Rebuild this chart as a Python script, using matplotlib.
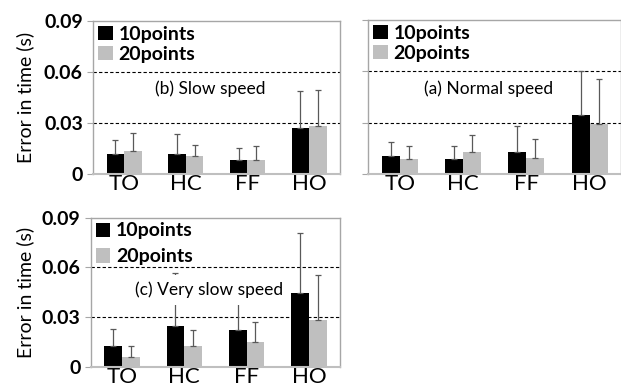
import matplotlib
matplotlib.use("Agg")
from matplotlib import pyplot as plt
from matplotlib.transforms import blended_transform_factory
import numpy as np

plt.rcParams['font.family'] = ['Lato', 'DejaVu Sans']

categories = ['TO', 'HC', 'FF', 'HO']
series_names = ['10points', '20points']
y_ticks = [0, 0.03, 0.06, 0.09]
y_tick_labels = ['0', '0.03', '0.06', '0.09']

# (b) slow speed
slow_10 = [0.0118, 0.0118, 0.0082, 0.0270]
slow_20 = [0.0135, 0.0108, 0.0082, 0.0282]
slow_10_top = [0.0200, 0.0233, 0.0155, 0.0490]
slow_20_top = [0.0240, 0.0171, 0.0165, 0.0494]

# (a) normal speed
normal_10 = [0.0105, 0.0086, 0.0127, 0.0345]
normal_20 = [0.0086, 0.0127, 0.0095, 0.0294]
normal_10_top = [0.0185, 0.0166, 0.0280, 0.0600]
normal_20_top = [0.0166, 0.0230, 0.0203, 0.0557]

# (c) very slow speed
vslow_10 = [0.0126, 0.0250, 0.0224, 0.0448]
vslow_20 = [0.0062, 0.0126, 0.0152, 0.0282]
vslow_10_top = [0.0232, 0.0568, 0.0430, 0.0808]
vslow_20_top = [0.0124, 0.0222, 0.0270, 0.0552]

panels = [
    ('(b) Slow speed', slow_10, slow_20, slow_10_top, slow_20_top, True),
    ('(a) Normal speed', normal_10, normal_20, normal_10_top, normal_20_top, False),
    ('(c) Very slow speed', vslow_10, vslow_20, vslow_10_top, vslow_20_top, True),
]
rects = [
    [0.1502, 0.5492, 0.3973, 0.3964],
    [0.5930, 0.5492, 0.4074, 0.3990],
    [0.1465, 0.0492, 0.4010, 0.3870],
]
title_y = [0.0500, 0.0500, 0.0465]
legend_gap = [0.15, 0.15, 0.45]

fig = plt.figure(figsize=(6.21, 3.86), dpi=100)

width = 0.285
x = np.arange(len(categories))
for (title, s10, s20, t10, t20, show_y), rect, ty, lg in zip(panels, rects, title_y, legend_gap):
    ax = fig.add_axes(rect)
    e10 = np.array(t10) - np.array(s10)
    e20 = np.array(t20) - np.array(s20)
    ax.bar(x - width / 2, s10, width, color='black', label=series_names[0], zorder=2)
    ax.bar(x + width / 2, s20, width, color='#bfbfbf', label=series_names[1], zorder=2)
    ax.errorbar(x - width / 2, s10, yerr=[np.zeros(4), e10], fmt='none',
                ecolor='#595959', elinewidth=0.9, capsize=2, capthick=0.9, zorder=3)
    ax.errorbar(x + width / 2, s20, yerr=[np.zeros(4), e20], fmt='none',
                ecolor='#595959', elinewidth=0.9, capsize=2, capthick=0.9, zorder=3)
    for g in (0.03, 0.06):
        ax.axhline(g, color='black', linestyle=(0, (3, 2)), linewidth=0.8, zorder=1)
    ax.set_xlim(-0.5, 3.5)
    ax.set_ylim(0, 0.09)
    ax.set_xticks(x)
    ax.set_xticklabels(categories, fontsize=16)
    ax.tick_params(axis='x', length=0, pad=0)
    ax.set_yticks(y_ticks)
    ax.tick_params(axis='y', length=4.5, color='#a6a6a6', pad=3)
    if show_y:
        ax.set_yticklabels(y_tick_labels, fontsize=14, fontweight='bold')
        ax.set_ylabel('Error in time (s)', fontsize=14)
        ax.yaxis.set_label_coords(0.055, 0.5,
                                  transform=blended_transform_factory(fig.transFigure, ax.transAxes))
    else:
        ax.set_yticklabels([])
    for s in ax.spines.values():
        s.set_color('#a6a6a6')
        s.set_linewidth(1.0)
    ax.spines['bottom'].set_color('#bfbfbf')
    ax.spines['bottom'].set_linewidth(1.5)
    ax.text(1.4, ty, title, ha='center', va='center', fontsize=12.5,
            zorder=4, bbox=dict(facecolor='white', edgecolor='none', pad=5))
    ax.legend(loc='upper left', frameon=False, handlelength=0.75,
              handleheight=0.75, handletextpad=0.3, labelspacing=lg,
              borderaxespad=0.1, borderpad=0.15, prop={'size': 14, 'weight': 'bold'})

fig.savefig('out.png', dpi=100)
